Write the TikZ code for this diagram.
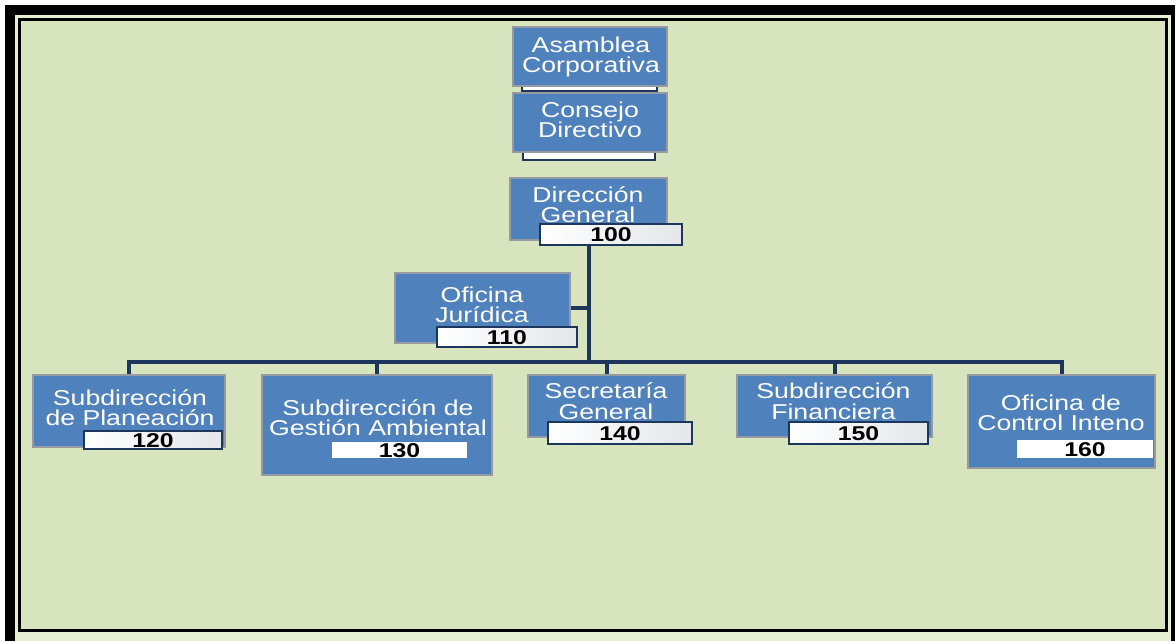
\documentclass[tikz,border=0pt]{standalone}
\usepackage{fontspec}
\setmainfont[FakeStretch=1.24]{Liberation Sans}
\definecolor{bggreen}{RGB}{215,228,189}
\definecolor{stripe}{RGB}{230,238,212}
\definecolor{boxblue}{RGB}{79,129,189}
\definecolor{boxedge}{RGB}{150,155,162}
\definecolor{navy}{RGB}{28,54,92}
\definecolor{tabgray}{RGB}{228,230,234}
\tikzset{
  x=1pt, y=-1pt,
  box/.style={draw=boxedge, fill=boxblue, line width=2.4pt, inner sep=0pt, rectangle},
  tabbox/.style={draw=navy, line width=2pt, left color=white, right color=tabgray, inner sep=0pt,
    text height=14pt, text depth=0pt, font=\fontsize{20}{22}\selectfont\bfseries, text=black},
  liptab/.style={draw=navy, line width=1.5pt, fill=white, inner sep=0pt},
  plaintab/.style={fill=white, draw=none, inner sep=0pt,
    text height=14pt, text depth=0pt, font=\fontsize{20}{22}\selectfont\bfseries, text=black},
  lbl/.style={anchor=base, inner sep=0pt, text=white, font=\fontsize{21.5}{21}\selectfont},
  conn/.style={draw=navy, line width=4pt}
}
\begin{document}
\begin{tikzpicture}
\useasboundingbox (0,0) rectangle (1176,641);
% frame
\fill[white] (0,0) rectangle (1176,641);
\fill[black] (5,5) rectangle (1175,641);
\fill[stripe] (15,15) rectangle (1171,641);
\fill[bggreen] (21,21) rectangle (1165,629);
\draw[black, line width=3pt] (19.5,19.5) rectangle (1166.5,630.5);

% lip tabs (behind their boxes)
\node[liptab, minimum width=135, minimum height=8] (asmT) at (589.5,87) {};
\node[liptab, minimum width=132, minimum height=9] (conT) at (589,155.5) {};
% boxes
\node[box, minimum width=154, minimum height=59] (asm) at (590,56.5) {};
\node[box, minimum width=154, minimum height=59] (con) at (590,122.5) {};
\node[box, minimum width=157, minimum height=62] (dir) at (588.5,209) {};
\node[tabbox, minimum width=142, minimum height=21] (t100) at (611,234.5) {100};
\node[box, minimum width=175, minimum height=70] (ofi) at (482.5,308) {};
\node[tabbox, minimum width=140, minimum height=20] (t110) at (507,337) {110};
\node[box, minimum width=192, minimum height=72] (pla) at (129,411) {};
\node[tabbox, minimum width=138, minimum height=18] (t120) at (153,440) {120};
\node[box, minimum width=230, minimum height=100] (ges) at (377,425) {};
\node[plaintab, minimum width=135, minimum height=16] (t130) at (399.5,450) {130};
\node[box, minimum width=157, minimum height=62] (sec) at (606.5,406) {};
\node[tabbox, minimum width=144, minimum height=22] (t140) at (620,433) {140};
\node[box, minimum width=195, minimum height=62] (fin) at (834.5,406) {};
\node[tabbox, minimum width=139, minimum height=22] (t150) at (858.5,433) {150};
\node[box, minimum width=187, minimum height=93] (ctl) at (1061.5,421.5) {};
\node[plaintab, minimum width=136, minimum height=18] (t160) at (1085,449) {160};

% labels
\node[lbl] (asm1) at (591,52) {Asamblea};
\node[lbl] (asm2) at (591,72) {Corporativa};
\node[lbl] (con1) at (590,117) {Consejo};
\node[lbl] (con2) at (590,137) {Directivo};
\node[lbl] (dir1) at (588,202) {Dirección};
\node[lbl] (dir2) at (588,222) {General};
\node[lbl] (ofi1) at (482,302) {Oficina};
\node[lbl] (ofi2) at (482,322) {Jurídica};
\node[lbl] (pla1) at (130,405) {Subdirección};
\node[lbl] (pla2) at (130,425) {de Planeación};
\node[lbl] (ges1) at (378,415) {Subdirección de};
\node[lbl] (ges2) at (378,435) {Gestión Ambiental};
\node[lbl] (sec1) at (606,398) {Secretaría};
\node[lbl] (sec2) at (606,419) {General};
\node[lbl] (fin1) at (833.5,398) {Subdirección};
\node[lbl] (fin2) at (833.5,419) {Financiera};
\node[lbl] (ctl1) at (1061,410) {Oficina de};
\node[lbl] (ctl2) at (1061,430) {Control Inteno};

% connectors
\coordinate (bar) at (588.5,362);
\draw[conn] (dir.center |- t100.south) -- (bar);
\draw[conn] (ofi.east) -- (ofi.east -| bar);
\draw[conn] ([xshift=-2pt]pla.north |- bar) -- ([xshift=2pt]ctl.north |- bar);
\draw[conn] (pla.north |- bar) -- (pla.north);
\draw[conn] (ges.north |- bar) -- (ges.north);
\draw[conn] (sec.north |- bar) -- (sec.north);
\draw[conn] (fin.north |- bar) -- (fin.north);
\draw[conn] (ctl.north |- bar) -- (ctl.north);
\end{tikzpicture}
\end{document}
